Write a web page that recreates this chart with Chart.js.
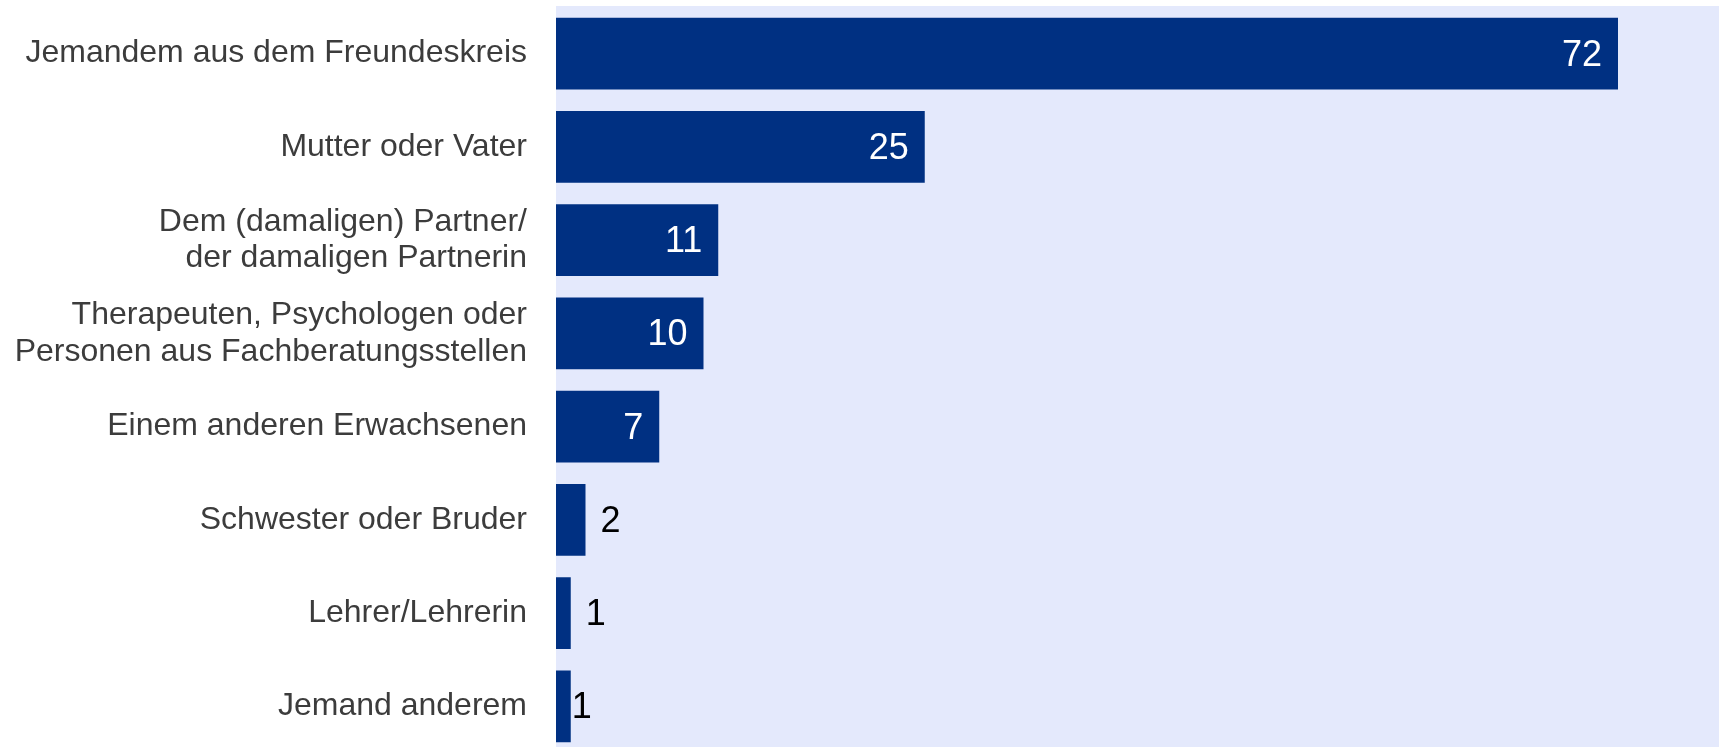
<!DOCTYPE html>
<html>
<head>
<meta charset="utf-8">
<script src="https://cdn.jsdelivr.net/npm/chart.js@4"></script>
<style>
  html, body { margin: 0; padding: 0; background: #ffffff; overflow: hidden; }
  #wrap { width: 1736px; height: 760px; }
</style>
</head>
<body>
<div id="wrap"><canvas id="c" width="1736" height="760"></canvas></div>
<script>
const categories = [
  "Jemandem aus dem Freundeskreis",
  "Mutter oder Vater",
  ["Dem (damaligen) Partner/", "der damaligen Partnerin"],
  ["Therapeuten, Psychologen oder", "Personen aus Fachberatungsstellen"],
  "Einem anderen Erwachsenen",
  "Schwester oder Bruder",
  "Lehrer/Lehrerin",
  "Jemand anderem"
];
const values = [72, 25, 11, 10, 7, 2, 1, 1];
const axisMin = 0;
const axisMax = 80;

const FONT = "'Liberation Sans', Arial, Helvetica, sans-serif";

const plotBackground = {
  id: 'plotBackground',
  beforeDraw(chart) {
    const {ctx, chartArea} = chart;
    ctx.save();
    ctx.fillStyle = '#e4e9fc';
    ctx.fillRect(chartArea.left, chartArea.top - 1, chart.width - chartArea.left, chart.height);
    ctx.restore();
  }
};

const valueLabels = {
  id: 'valueLabels',
  afterDatasetsDraw(chart, args, opts) {
    const {ctx} = chart;
    const meta = chart.getDatasetMeta(0);
    ctx.save();
    ctx.font = opts.font;
    ctx.textBaseline = 'middle';
    meta.data.forEach((bar, i) => {
      const v = chart.data.datasets[0].data[i];
      const txt = String(v);
      if (v >= opts.insideThreshold) {
        ctx.fillStyle = '#ffffff';
        ctx.textAlign = 'right';
        ctx.fillText(txt, bar.x - opts.insidePad, bar.y + 2);
      } else {
        ctx.fillStyle = '#000000';
        ctx.textAlign = 'left';
        const off = (opts.outsideOverrides && opts.outsideOverrides[i] !== undefined) ? opts.outsideOverrides[i] : opts.outsidePad;
        ctx.fillText(txt, bar.x + off, bar.y + 2);
      }
    });
    ctx.restore();
  }
};

new Chart(document.getElementById('c'), {
  type: 'bar',
  data: {
    labels: categories,
    datasets: [{
      data: values,
      backgroundColor: '#003082',
      borderWidth: 0,
      barPercentage: 0.767,
      categoryPercentage: 1.0
    }]
  },
  options: {
    indexAxis: 'y',
    responsive: false,
    animation: false,
    devicePixelRatio: 1,
    layout: { padding: { left: 0, right: 0, top: 7, bottom: 7 } },
    plugins: {
      legend: { display: false },
      tooltip: { enabled: false },
      valueLabels: {
        font: '36px ' + FONT,
        insideThreshold: 5,
        insidePad: 16,
        outsidePad: 15,
        outsideOverrides: {7: 1}
      }
    },
    scales: {
      x: {
        display: false,
        min: axisMin,
        max: axisMax,
        grid: { display: false }
      },
      y: {
        afterFit(scale) {
          scale.width = 556;
          scale.paddingTop = 0;
          scale.paddingBottom = 0;
        },
        grid: { display: false, drawTicks: false },
        border: { display: false },
        ticks: {
          padding: 29,
          color: '#3c3c3c',
          font: { family: FONT, size: 32, lineHeight: 1.15 },
          crossAlign: 'near'
        }
      }
    }
  },
  plugins: [plotBackground, valueLabels]
});
</script>
</body>
</html>
